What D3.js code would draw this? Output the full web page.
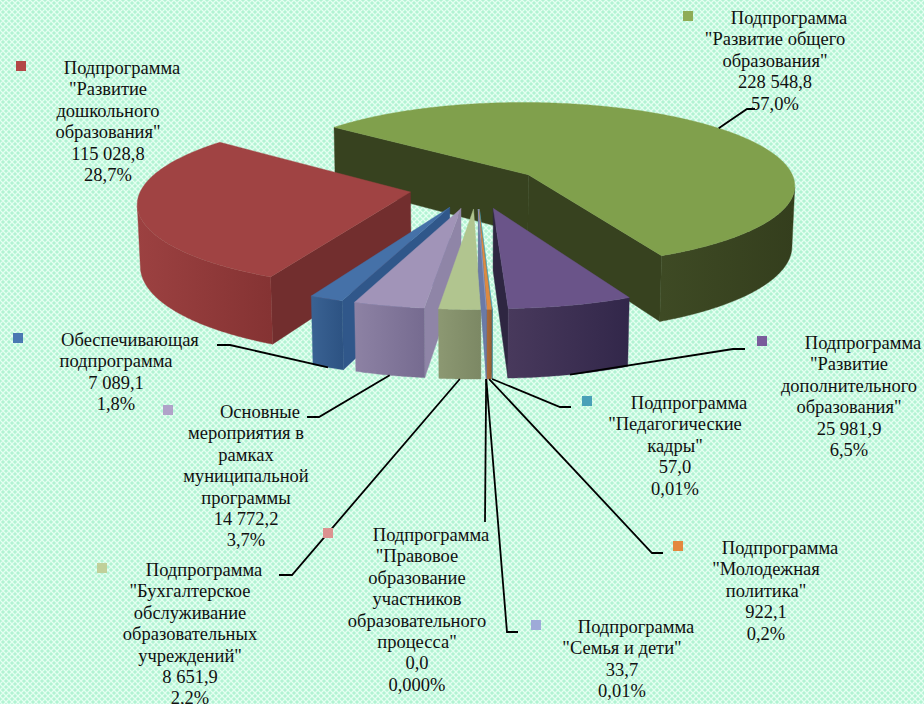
<!DOCTYPE html>
<html>
<head>
<meta charset="utf-8">
<script src="https://cdn.jsdelivr.net/npm/d3@7"></script>
<style>
  html, body { margin: 0; padding: 0; background: #bdf6da; }
  svg { display: block; }
</style>
</head>
<body>
<svg id="chart" width="924" height="704"></svg>
<script>
// Municipal education programme budget, split by subprogramme (thousand roubles)
const categories = [
  ["Обеспечивающая", "подпрограмма"],
  ["Подпрограмма", "\"Развитие", "дошкольного", "образования\""],
  ["Подпрограмма", "\"Развитие общего", "образования\""],
  ["Подпрограмма", "\"Развитие", "дополнительного", "образования\""],
  ["Подпрограмма", "\"Педагогические", "кадры\""],
  ["Подпрограмма", "\"Молодежная", "политика\""],
  ["Подпрограмма", "\"Семья и дети\""],
  ["Подпрограмма", "\"Правовое", "образование", "участников", "образовательного", "процесса\""],
  ["Подпрограмма", "\"Бухгалтерское", "обслуживание", "образовательных", "учреждений\""],
  ["Основные", "мероприятия в", "рамках", "муниципальной", "программы"]
];
const values = [7089.1, 115028.8, 228548.8, 25981.9, 57.0, 922.1, 33.7, 0.0, 8651.9, 14772.2];
// decimals shown in each percentage label
const percentDigits = [1, 1, 1, 1, 2, 1, 2, 3, 1, 1];

// ---- styling ----
const markerColors = ["#4a78b2", "#b34746", "#8fac56", "#7a5c9c", "#4aa0b8", "#e4883e",
                      "#9eaad8", "#dc9290", "#c0d09a", "#b0a2c9"];
const shades = [
  { top: "#4571a8", wall: "#30578a", outerA: "#3a6293", outerB: "#2d5383" },
  { top: "#a04343", wall: "#722e2e", outerA: "#9c4141", outerB: "#853333" },
  { top: "#80a04c", wall: "#37421f", outerA: "#3e4a24", outerB: "#343e1d" },
  { top: "#6a5489", wall: "#2e2641", outerA: "#48395c", outerB: "#32274a" },
  { top: "#4bacc6", wall: "#2c6f80", outerA: "#3b8aa0", outerB: "#357d91" },
  { top: "#dc8a42", wall: "#6e4420", outerA: "#a86a3a", outerB: "#9a6034" },
  { top: "#9aaad6", wall: "#6a7aa6", outerA: "#7a88b4", outerB: "#6e7ca8" },
  { top: "#d99694", wall: "#a86664", outerA: "#b47472", outerB: "#a86866" },
  { top: "#b1c58f", wall: "#8f9b74", outerA: "#8c9872", outerB: "#7c8864" },
  { top: "#a194b8", wall: "#8f85a7", outerA: "#8d82a4", outerB: "#766b90" }
];

// label placement: marker x, block centre x, first line centre y, leader bends
const labelLayout = [
  { mx: 13,  cx: 116, y: 340, leader: [[230, 345], [217, 345]] },
  { mx: 16,  cx: 108, y: 68,  leader: null },
  { mx: 683, cx: 775, y: 18,  leader: [[747, 109], [755, 109]] },
  { mx: 757, cx: 849, y: 343, leader: [[733, 349], [745, 349]] },
  { mx: 582, cx: 675, y: 403, leader: [[560, 407], [571, 407]] },
  { mx: 673, cx: 766, y: 548, leader: [[652, 553], [663, 553]] },
  { mx: 531, cx: 622, y: 627, leader: [[507, 632], [518, 632]] },
  { mx: 323, cx: 417, y: 535, leader: [[485, 522]] },
  { mx: 97,  cx: 190, y: 570, leader: [[292, 575], [279, 575]] },
  { mx: 163, cx: 246, y: 412, leader: [[319, 417], [307, 417]] }
];

// ---- 3D view of the pie ----
const view = {
  cx: 476.5, cy: 187.5, f: 268.7,   // screen centre and scale
  persp: 0.1217,                     // radius / camera distance
  tilt: 18.1 * Math.PI / 180,        // camera elevation
  explode: 0.25, depth: 0.24,        // in pie radii
  firstAngle: 199.6 * Math.PI / 180
};
const ca = Math.cos(view.tilt), sa = Math.sin(view.tilt);
const camY = sa / view.persp, camZ = -ca / view.persp;

function project(X, Y, Z) {
  const w = 1 + view.persp * (Z * ca - Y * sa);
  return [view.cx + view.f * X / w, view.cy - view.f * (Z * sa + Y * ca) / w];
}

const svg = d3.select("#chart");
const defs = svg.append("defs");

// textured mint background
const pat = defs.append("pattern").attr("id", "bgTex")
  .attr("width", 6).attr("height", 6).attr("patternUnits", "userSpaceOnUse");
pat.append("rect").attr("width", 6).attr("height", 6).attr("fill", "#b2f3d3");
pat.append("path").attr("d", "M0,0L6,6M6,0L0,6M-3,3L3,-3M3,9L9,3M-3,3L3,9M3,-3L9,3")
  .attr("stroke", "#e4fff1").attr("stroke-width", 1.3).attr("fill", "none");
svg.append("rect").attr("width", 924).attr("height", 704).attr("fill", "url(#bgTex)");

const pie = d3.pie().sort(null).value(d => d)
  .startAngle(view.firstAngle).endAngle(view.firstAngle + 2 * Math.PI);
const arcs = pie(values);

const slices = arcs.map((a, i) => {
  const m = (a.startAngle + a.endAngle) / 2;
  return {
    i, a0: a.startAngle, a1: a.endAngle, mid: m,
    ox: view.explode * Math.sin(m), oz: view.explode * Math.cos(m)
  };
});

const line = d3.line();
const pieG = svg.append("g");

function pt(s, th, r, Y) {
  return project(s.ox + r * Math.sin(th), Y, s.oz + r * Math.cos(th));
}

// back slices first
const order = slices.filter(s => s.a1 > s.a0).sort((p, q) => q.oz - p.oz);

order.forEach(s => {
  const g = pieG.append("g");
  const sh = shades[s.i];
  const T = -view.depth;
  const tipTop = project(s.ox, 0, s.oz), tipBot = project(s.ox, T, s.oz);
  const span = s.a1 - s.a0;
  const n = Math.max(2, Math.ceil(span / (0.4 * Math.PI / 180)));
  const th = d3.range(n + 1).map(k => s.a0 + span * k / n);

  // radial walls
  const radial = [];
  const visStart = -Math.cos(s.a0) * (0 - s.ox) + Math.sin(s.a0) * (camZ - s.oz);
  const visEnd = Math.cos(s.a1) * (0 - s.ox) - Math.sin(s.a1) * (camZ - s.oz);
  if (visStart > 0) radial.push(s.a0);
  if (visEnd > 0) radial.push(s.a1);
  radial.forEach(a => {
    g.append("path")
      .attr("d", line([tipTop, pt(s, a, 1, 0), pt(s, a, 1, T), tipBot]) + "Z")
      .attr("fill", sh.wall).attr("stroke", sh.wall).attr("stroke-width", 0.4);
  });

  // outer curved wall, only where it faces the camera
  const faces = t => -(s.ox + Math.sin(t)) * Math.sin(t) + (camZ - s.oz - Math.cos(t)) * Math.cos(t) > 0;
  let runs = [], cur = null;
  for (let k = 0; k < n; k++) {
    if (faces((th[k] + th[k + 1]) / 2)) {
      if (!cur) { cur = [th[k]]; runs.push(cur); }
      cur.push(th[k + 1]);
    } else cur = null;
  }
  runs.forEach((run, r) => {
    const topPts = run.map(t => pt(s, t, 1, 0));
    const botPts = run.map(t => pt(s, t, 1, T)).reverse();
    const xs = topPts.map(p => p[0]);
    const gid = `outer${s.i}_${r}`;
    const lg = defs.append("linearGradient").attr("id", gid)
      .attr("gradientUnits", "userSpaceOnUse")
      .attr("x1", d3.min(xs)).attr("x2", d3.max(xs)).attr("y1", 0).attr("y2", 0);
    lg.append("stop").attr("offset", 0).attr("stop-color", sh.outerA);
    lg.append("stop").attr("offset", 1).attr("stop-color", sh.outerB);
    g.append("path").attr("d", line(topPts.concat(botPts)) + "Z")
      .attr("fill", `url(#${gid})`).attr("stroke", `url(#${gid})`).attr("stroke-width", 0.4);
  });

  // top face
  g.append("path")
    .attr("d", line([tipTop].concat(th.map(t => pt(s, t, 1, 0)))) + "Z")
    .attr("fill", sh.top).attr("stroke", sh.top).attr("stroke-width", 0.4);
});

// ---- labels ----
const locale = d3.formatLocale({ decimal: ",", thousands: "\u00a0", grouping: [3], currency: ["", ""] });
const fmtValue = locale.format(",.1f");
const total = d3.sum(values);
const lineStep = 21.4;

const leadG = svg.append("g").attr("fill", "none").attr("stroke", "#000").attr("stroke-width", 1.8);
const textG = svg.append("g")
  .style("font-family", "'Liberation Serif', 'Times New Roman', serif")
  .style("font-size", "18.5px").attr("fill", "#111");

slices.forEach(s => {
  const L = labelLayout[s.i];
  if (L.leader) {
    const back = Math.cos(s.mid) > 0;
    const anchor = pt(s, s.mid, 1, back ? 0 : -view.depth);
    leadG.append("path").attr("d", line([anchor].concat(L.leader)));
  }
  svg.append("rect").attr("x", L.mx).attr("y", L.y - 7).attr("width", 10).attr("height", 10)
    .attr("fill", markerColors[s.i]);
  const pct = locale.format("." + percentDigits[s.i] + "f")(values[s.i] / total * 100) + "%";
  const lines = categories[s.i].concat([fmtValue(values[s.i]), pct]);
  lines.forEach((t, k) => {
    textG.append("text")
      .attr("x", k === 0 ? L.cx + 14 : L.cx)
      .attr("y", L.y + k * lineStep + 6)
      .attr("text-anchor", "middle")
      .text(t);
  });
});
</script>
</body>
</html>
